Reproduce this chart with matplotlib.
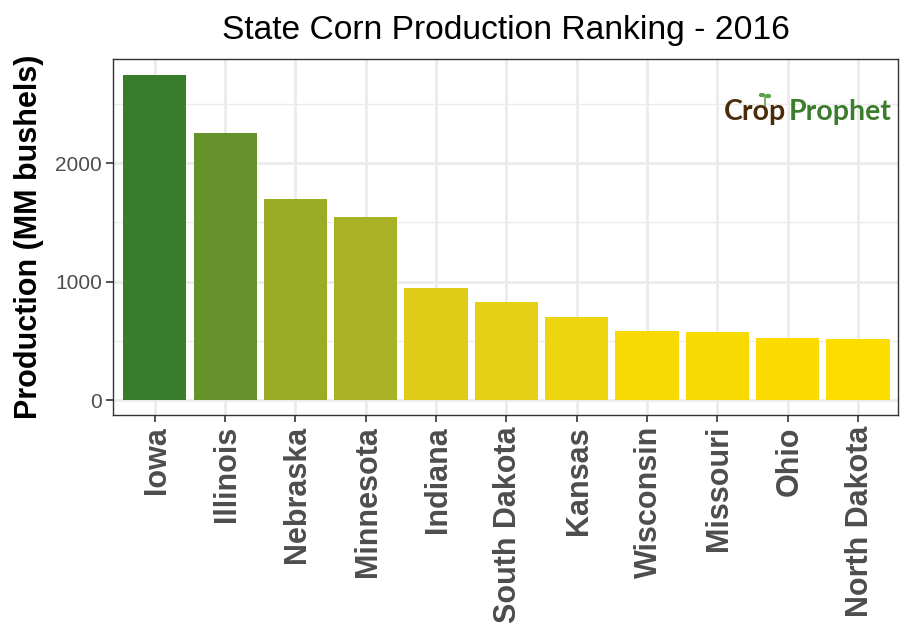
import matplotlib
matplotlib.use("Agg")
from matplotlib import pyplot as plt
from matplotlib.lines import Line2D
from matplotlib.patches import Ellipse
from matplotlib.transforms import ScaledTranslation

plt.rcParams["font.family"] = ["Liberation Sans", "DejaVu Sans"]

states = ["Iowa", "Illinois", "Nebraska", "Minnesota", "Indiana", "South Dakota",
          "Kansas", "Wisconsin", "Missouri", "Ohio", "North Dakota"]
production = [2745, 2257, 1700, 1548, 945, 828, 705, 586, 572, 527, 519]
bar_colors = ["#377d2c", "#66922b", "#9aab25", "#a9b224", "#dfcc18", "#e5d015",
              "#edd50f", "#f7d904", "#f8da03", "#fbdb02", "#fddc00"]
y_ticks = [0, 1000, 2000]
y_minor = [500, 1500, 2500]

W, H = 914, 640
fig = plt.figure(figsize=(W / 100, H / 100), dpi=100)
ax = fig.add_axes([113 / W, 1 - 415 / H, (898 - 113) / W, (415 - 59) / H])

x = list(range(len(states)))
ax.bar(x, production, width=0.9, color=bar_colors, zorder=3)
ax.set_xlim(-0.595, 10.57)
ax.set_ylim(-126, 2881)

# ggplot theme_bw style grid
ax.set_axisbelow(True)
ax.grid(True, which="major", color="#ebebeb", linewidth=2)
ax.set_yticks(y_ticks)
ax.set_yticks(y_minor, minor=True)
ax.grid(True, which="minor", axis="y", color="#ebebeb", linewidth=1)
ax.tick_params(axis="y", which="minor", length=0)
ax.set_xticks(x)
ax.set_xticklabels(states, rotation=90, fontsize=22, fontweight="bold", color="#4d4d4d")
ax.tick_params(axis="x", length=5, width=1.2, color="#333333", pad=3)
ax.tick_params(axis="y", length=5, width=1.2, color="#333333", labelsize=15, labelcolor="#4d4d4d", pad=3)

# rotated labels sit a little left of the ticks otherwise
nudge = ScaledTranslation(2 / 100, 0, fig.dpi_scale_trans)
for label in ax.get_xticklabels():
    label.set_transform(label.get_transform() + nudge)

for spine in ax.spines.values():
    spine.set_color("#333333")
    spine.set_linewidth(1.0)

fig.text(29 / W, 1 - 237 / H, "Production (MM bushels)", fontsize=22, fontweight="bold",
         rotation=90, ha="center", va="center")
fig.text(506 / W, 1 - 30 / H, "State Corn Production Ranking - 2016", fontsize=24.2,
         ha="center", va="center")

# logo
fig.text(724 / W, 1 - 112 / H, "Crop", fontsize=20.5, fontfamily="Lato", fontweight="bold",
         color="#4a2c0a", ha="left", va="center")
fig.text(789 / W, 1 - 112 / H, "Prophet", fontsize=20.5, fontfamily="Lato", fontweight="bold",
         color="#3a7d2c", ha="left", va="center")
fig.add_artist(Line2D([765 / W, 765 / W], [1 - 110 / H, 1 - 97 / H], color="#5fa04e", linewidth=1.2))
fig.add_artist(Ellipse((762 / W, 1 - 95 / H), 5 / W, 3 / H, color="#5fa04e"))
fig.add_artist(Ellipse((768 / W, 1 - 96 / H), 5 / W, 3 / H, color="#5fa04e"))

fig.savefig("out.png", dpi=100)
